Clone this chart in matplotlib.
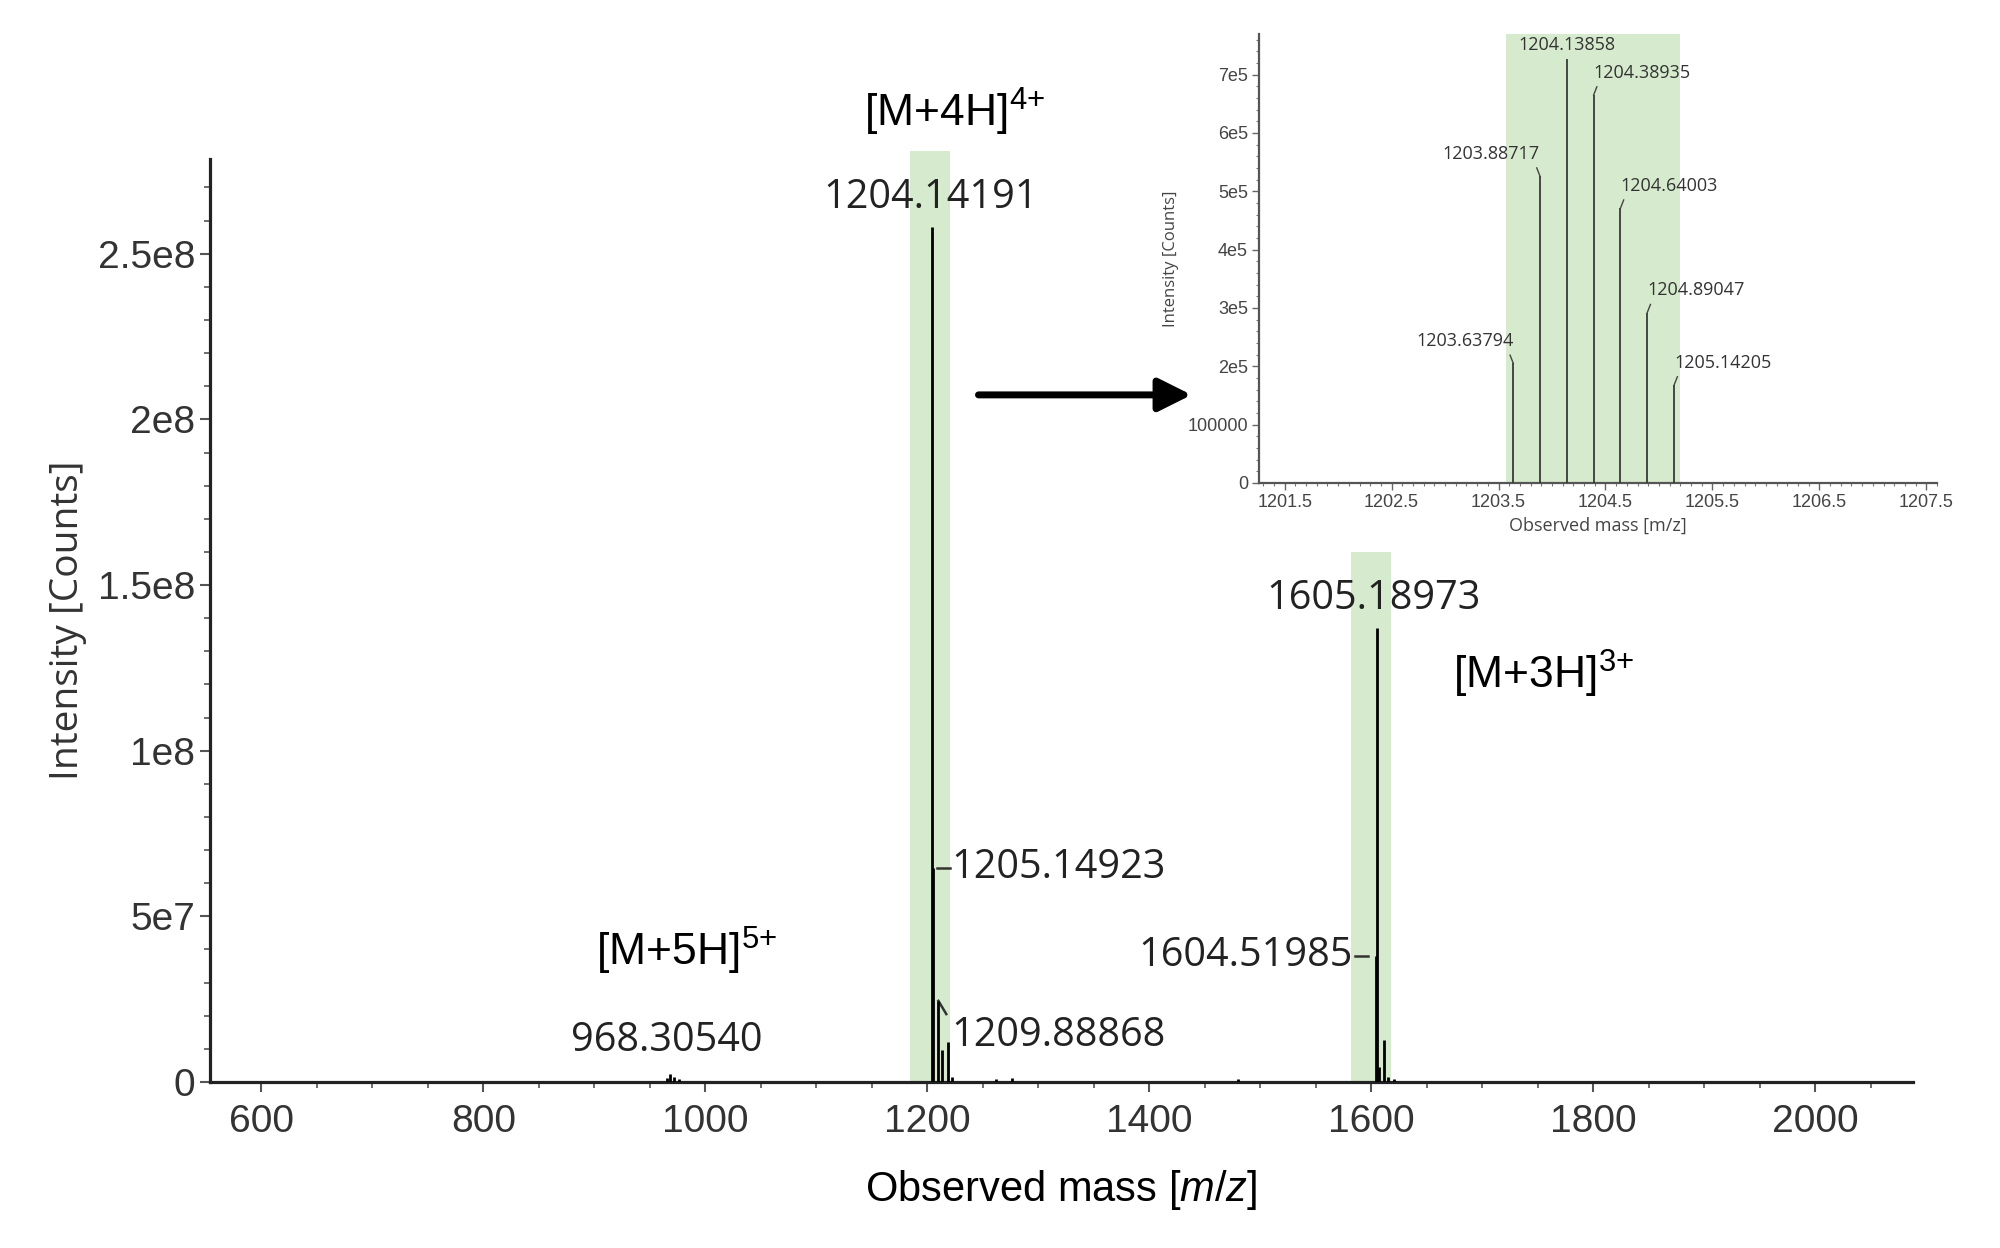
import matplotlib
matplotlib.use('Agg')
import matplotlib.pyplot as plt
from matplotlib.ticker import FixedLocator, MultipleLocator

plt.rcParams['font.family'] = ['Liberation Sans', 'DejaVu Sans']
plt.rcParams['mathtext.fontset'] = 'custom'
plt.rcParams['mathtext.rm'] = 'Liberation Sans'
plt.rcParams['mathtext.it'] = 'Liberation Sans:italic'

# main spectrum (m/z, intensity)
main_mz = [965.0, 968.31, 972.0, 976.0, 1204.14191, 1205.14923, 1209.88868, 1213.3, 1218.6, 1222.0,
           1262.0, 1276.0, 1480.0, 1604.51985, 1605.18973, 1606.5, 1611.0, 1615.0, 1620.0]
main_int = [1.2e6, 2.5e6, 1.5e6, 8e5, 2.58e8, 6.47e7, 2.45e7, 9.7e6, 1.2e7, 1.5e6,
            1.0e6, 1.2e6, 8e5, 3.8e7, 1.371e8, 4.6e6, 1.27e7, 1.5e6, 1.0e6]

main_xticks = [600, 800, 1000, 1200, 1400, 1600, 1800, 2000]
main_yticks = [0, 5e7, 1e8, 1.5e8, 2e8, 2.5e8]
main_ylabels = ['0', '5e7', '1e8', '1.5e8', '2e8', '2.5e8']

band_lo = [1184, 1582]
band_hi = [1220, 1618]
band_top = [2.81e8, 1.6e8]

# zoomed isotope cluster of [M+4H]4+
iso_mz = [1203.63794, 1203.88717, 1204.13858, 1204.38935, 1204.64003, 1204.89047, 1205.14205]
iso_int = [2.05e5, 5.26e5, 7.26e5, 6.65e5, 4.71e5, 2.92e5, 1.68e5]
iso_ha = ['right', 'right', 'center', 'left', 'left', 'left', 'left']
iso_xticks = [1201.5, 1202.5, 1203.5, 1204.5, 1205.5, 1206.5, 1207.5]
iso_yticks = [0, 1e5, 2e5, 3e5, 4e5, 5e5, 6e5, 7e5]
iso_ylabels = ['0', '100000', '2e5', '3e5', '4e5', '5e5', '6e5', '7e5']
iso_band = (1203.57, 1205.20)

green = '#d6ebcd'
label_font = 'Open Sans'
lab = dict(fontsize=28.5, family=label_font, color='#222222', va='center')

fig = plt.figure(figsize=(20, 12.48), dpi=100)
ax = fig.add_axes([0.105, 0.133, 0.8515, 0.7396])

for lo, hi, top in zip(band_lo, band_hi, band_top):
    ax.fill_between([lo, hi], 0, top, color=green, lw=0, zorder=0, clip_on=False)

ax.vlines(main_mz, 0, main_int, color='black', lw=2.0, zorder=3)

ax.set_xlim(553.6, 2088)
ax.set_ylim(0, 2.786e8)
ax.xaxis.set_major_locator(FixedLocator(main_xticks))
ax.xaxis.set_minor_locator(MultipleLocator(50))
ax.yaxis.set_major_locator(FixedLocator(main_yticks))
ax.yaxis.set_minor_locator(MultipleLocator(1e7))
ax.set_yticklabels(main_ylabels)
for s in ['top', 'right']:
    ax.spines[s].set_visible(False)
for s in ['left', 'bottom']:
    ax.spines[s].set_linewidth(2.3)
    ax.spines[s].set_color('#222222')
ax.tick_params(which='major', length=7, width=1.5, color='#555555', labelsize=28,
               labelcolor='#333333')
ax.tick_params(axis='x', which='major', pad=9)
ax.tick_params(which='minor', length=4, width=1.2, color='#555555')

ax.set_xlabel(r'Observed mass [$\mathit{m/z}$]', fontsize=30, labelpad=20)
ax.set_ylabel('Intensity [Counts]', fontsize=28, family=label_font, color='#333333', labelpad=8)

# peak labels
ax.text(1203.3, 2.67e8, '1204.14191', ha='center', **lab)
ax.text(1602.4, 1.458e8, '1605.18973', ha='center', **lab)
ax.text(965.4, 1.24e7, '968.30540', ha='center', **lab)
ax.plot([1209, 1220], [6.47e7, 6.47e7], color='#333333', lw=1.8)
ax.text(1222, 6.47e7, '1205.14923', ha='left', **lab)
ax.plot([1585, 1597], [3.8e7, 3.8e7], color='#333333', lw=1.8)
ax.text(1583, 3.8e7, '1604.51985', ha='right', **lab)
ax.plot([1209.9, 1217], [2.45e7, 2.05e7], color='#333333', lw=1.8)
ax.text(1222, 1.39e7, '1209.88868', ha='left', **lab)

# ion annotations
ax.text(1224, 2.928e8, r'[M+4H]$^{4{+}}$', fontsize=32, ha='center', va='center', clip_on=False)
ax.text(1755, 1.232e8, r'[M+3H]$^{3{+}}$', fontsize=32, ha='center', va='center')
ax.text(982.6, 3.97e7, r'[M+5H]$^{5{+}}$', fontsize=32, ha='center', va='center')

ax.annotate('', xy=(1438, 2.074e8), xytext=(1246, 2.074e8),
            arrowprops=dict(arrowstyle='-|>,head_length=0.5,head_width=0.25',
                            lw=5, color='black', mutation_scale=40, shrinkA=0, shrinkB=0))

# inset
ins = fig.add_axes([0.6295, 0.613, 0.339, 0.36])
ins.axvspan(iso_band[0], iso_band[1], color=green, lw=0, zorder=0)
ins.vlines(iso_mz, 0, iso_int, color='#3a3a3a', lw=1.3, zorder=3)
for mz, h, ha in zip(iso_mz, iso_int, iso_ha):
    if ha == 'center':
        ins.text(mz, h + 2.4e4, f'{mz:.5f}', fontsize=13, family=label_font, color='#333333',
                 ha='center', va='center')
    else:
        d = -0.03 if ha == 'right' else 0.03
        ins.plot([mz, mz + d], [h, h + 1.4e4], color='#444444', lw=1.0)
        ins.text(mz, h + 3.8e4, f'{mz:.5f}', fontsize=13, family=label_font, color='#333333',
                 ha=ha, va='center')

ins.set_xlim(1201.26, 1207.6)
ins.set_ylim(0, 7.7e5)
ins.xaxis.set_major_locator(FixedLocator(iso_xticks))
ins.xaxis.set_minor_locator(MultipleLocator(0.1))
ins.yaxis.set_major_locator(FixedLocator(iso_yticks))
ins.yaxis.set_minor_locator(MultipleLocator(2e4))
ins.set_xticklabels([str(t) for t in iso_xticks])
ins.set_yticklabels(iso_ylabels)
for s in ['top', 'right']:
    ins.spines[s].set_visible(False)
for s in ['left', 'bottom']:
    ins.spines[s].set_linewidth(1.6)
    ins.spines[s].set_color('#555555')
ins.tick_params(which='major', length=5, width=1.0, color='#666666', labelsize=13,
                labelcolor='#444444', pad=3)
ins.tick_params(which='minor', length=2.5, width=0.8, color='#777777')
ins.set_xlabel('Observed mass [m/z]', fontsize=13, family=label_font, color='#444444', labelpad=4)
ins.set_ylabel('Intensity [Counts]', fontsize=12, family=label_font, color='#444444', labelpad=6)

fig.savefig('out.png', dpi=100)
